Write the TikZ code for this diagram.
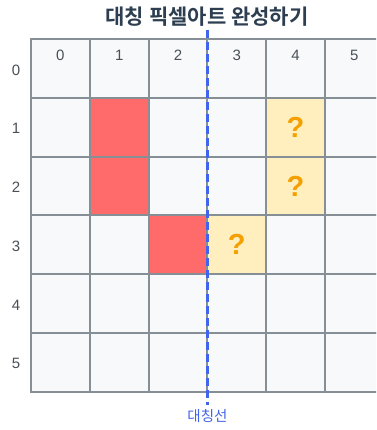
\documentclass[tikz,border=0pt]{standalone}
\usepackage{fontspec}
\setmainfont{Liberation Sans}
\newfontfamily\kr{Noto Sans CJK KR}
\newfontfamily\krbold{Noto Sans CJK KR Bold}
\definecolor{gridc}{HTML}{868E96}
\definecolor{cellc}{HTML}{F8F9FA}
\definecolor{redc}{HTML}{FF6B6B}
\definecolor{yelc}{HTML}{FFEFBF}
\definecolor{orc}{HTML}{F59F00}
\definecolor{bluec}{HTML}{4263EB}
\definecolor{titc}{HTML}{2C3E50}
\definecolor{labc}{HTML}{495057}
\tikzset{
  cell/.style={draw=gridc, line width=2pt, fill=cellc, minimum width=58.8pt, minimum height=58.8pt, inner sep=0pt, outer sep=0pt},
  lab/.style={text=labc, font=\fontsize{15}{17}\selectfont, inner sep=0pt},
  qmark/.style={text=orc, font=\bfseries\fontsize{29}{31}\selectfont, inner sep=0pt},
}
\begin{document}
\begin{tikzpicture}[x=1pt,y=-1pt]
\useasboundingbox (0,0) rectangle (376,430);
\fill[white] (0,0) rectangle (376,430);
\clip (0,0) rectangle (376,430);
\def\s{58.8}
\foreach \r in {0,...,5}{
  \foreach \c in {0,...,5}{
    \node[cell] (c\c\r) at ({31+\s*(\c+0.5)},{39+\s*(\r+0.5)}) {};
  }
}
\foreach \c/\r in {1/1,1/2,2/3}{
  \node[cell, fill=redc] (r\c\r) at ({31+\s*(\c+0.5)},{39+\s*(\r+0.5)}) {};
}
\foreach \c/\r in {4/1,4/2,3/3}{
  \node[cell, fill=yelc] (y\c\r) at ({31+\s*(\c+0.5)},{39+\s*(\r+0.5)}) {};
  \node[qmark] (q\c\r) at ({31+\s*(\c+0.5)},{39+\s*(\r+0.5)}) {?};
}
\foreach \c in {0,...,5}{
  \node[lab] (col\c) at ({31+\s*(\c+0.5)},55) {\c};
}
\foreach \r in {0,...,5}{
  \node[lab] (row\r) at (16,{39+\s*(\r+0.5)+1.5}) {\r};
}
\node[text=titc, inner sep=0pt] (title) at (207,17) {\krbold\fontsize{21}{24}\selectfont 대칭 픽셀아트 완성하기};
\coordinate (ltop) at (207.5,30);
\coordinate (lbot) at (207.5,405);
\draw[bluec, line width=3pt, dash pattern=on 8pt off 4pt] (ltop) -- (lbot);
\node[text=bluec, inner sep=0pt] (axis) at (207.5,416) {\kr\fontsize{14.5}{16}\selectfont 대칭선};
\end{tikzpicture}
\end{document}
